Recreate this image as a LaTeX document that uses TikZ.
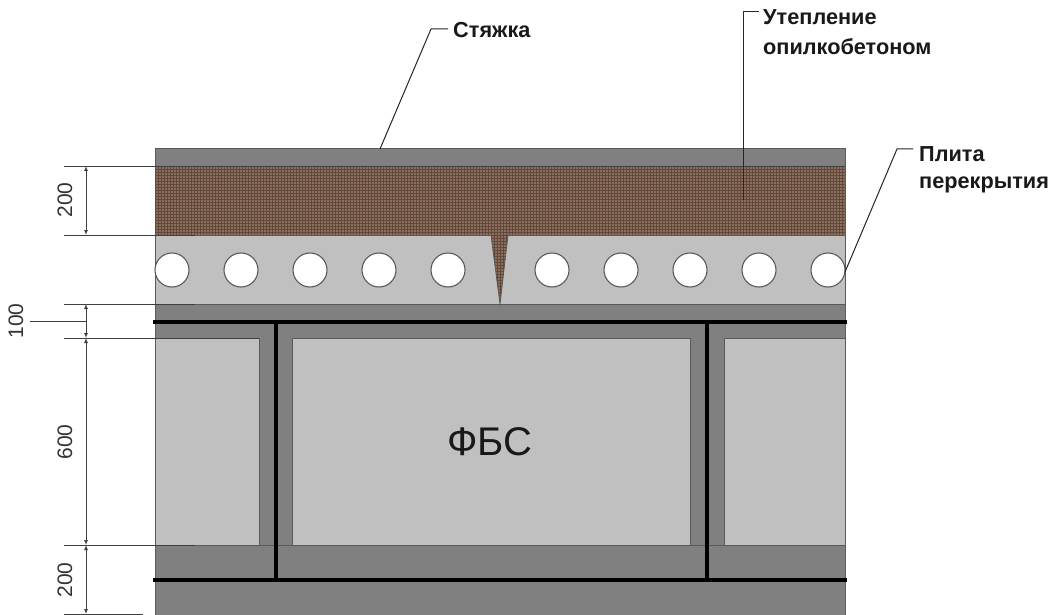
\documentclass[tikz,border=0pt]{standalone}
\usepackage{fontspec}
\setmainfont{Liberation Sans}
\usetikzlibrary{arrows.meta}
\definecolor{darkfill}{HTML}{808080}
\definecolor{lightfill}{HTML}{C0C0C0}
\definecolor{brownfill}{HTML}{8A6E5F}
\definecolor{brownmesh}{HTML}{614839}
\definecolor{edgegrey}{HTML}{5A5A5A}
\tikzset{
  x=1pt,y=-1pt,
  layer/.style={draw=edgegrey,line width=1pt},
  heavy/.style={draw=black,line width=3.2pt},
  dimline/.style={draw=black!75,line width=0.9pt},
  dimarrow/.style={dimline,{Latex[length=5pt,width=4pt]}-{Latex[length=5pt,width=4pt]}},
  leader/.style={draw=black!85,line width=1pt},
  dimtext/.style={font=\fontsize{21}{21}\selectfont,text=black!80,rotate=90,inner sep=0pt},
  calltext/.style={font=\fontsize{21.7}{21.7}\selectfont\bfseries,text=black!90,anchor=west,inner sep=0pt},
  hole/.style={draw=edgegrey,line width=1.1pt,fill=white,circle,minimum size=34pt,inner sep=0pt},
}
\begin{document}
\begin{tikzpicture}
\useasboundingbox (0,0) rectangle (1050,615);
\fill[white] (0,0) rectangle (1050,615);
% body
\path[fill=darkfill] (155,149) rectangle (845,615);
\draw[layer] (155,615) -- (155,149) -- (845,149) -- (845,615);
% slab
\path[layer,fill=lightfill] (155,235) rectangle (845,304);
% insulation with notch
\path[fill=brownfill] (155,166) -- (845,166) -- (845,235) -- (508,235) -- (500,304) -- (491,235) -- (155,235) -- cycle;
\begin{scope}
  \clip (155,166) -- (845,166) -- (845,235) -- (508,235) -- (500,304) -- (491,235) -- (155,235) -- cycle;
  \draw[brownmesh,line width=0.7pt] 
    \foreach \gx in {155,158,...,845} {(\gx,166) -- (\gx,304)}
    \foreach \gy in {166,169,...,304} {(155,\gy) -- (845,\gy)};
\end{scope}
\draw[edgegrey,line width=0.8pt] (491,235) -- (500,304) -- (508,235);
% holes
\foreach \n/\cx in {a/172,b/241,c/310,d/379,e/448,f/552,g/621,h/690,i/759,j/828}
  \node[hole] (hole\n) at (\cx,270) {};
% blocks
\path[layer,fill=lightfill] (155,338) rectangle (259,545);
\path[layer,fill=lightfill] (292,338) rectangle (690,545);
\path[layer,fill=lightfill] (724,338) rectangle (845,545);
\draw[edgegrey,line width=1pt] (155,545) -- (845,545);
% heavy lines
\draw[heavy] (153,322) -- (847,322);
\draw[heavy] (153,580) -- (847,580);
\draw[heavy] (276,322) -- (276,580);
\draw[heavy] (707,322) -- (707,580);
\node[font=\fontsize{40}{40}\selectfont,text=black!90,inner sep=0pt] (fbs) at (490,442) {ФБС};
% dimension coordinates
\coordinate (d0) at (86,166);
\coordinate (d1) at (86,235);
\coordinate (d2) at (86,304);
\coordinate (d3) at (86,338);
\coordinate (d4) at (86,545);
\coordinate (d5) at (86,614);
\coordinate (dm) at (86,321);
\coordinate (dl) at (30,321);
\draw[dimline] (64,166) -- (845,166);
\draw[dimline] (64,235) -- (195,235);
\draw[dimline] (64,304) -- (195,304);
\draw[dimline] (64,338) -- (259,338);
\draw[dimline] (64,545) -- (195,545);
\draw[dimline] (64,614) -- (143,614);
\draw[dimarrow] (d0) -- (d1);
\draw[dimarrow] (d2) -- (d3);
\draw[dimarrow] (d3) -- (d4);
\draw[dimarrow] (d4) -- (d5);
\draw[dimline] (dl) -- (dm);
\node[dimtext] (t200a) at (65,200) {200};
\node[dimtext] (t100) at (16,321) {100};
\node[dimtext] (t600) at (65,442) {600};
\node[dimtext] (t200b) at (65,580) {200};
% callouts
\node[calltext] (lscreed) at (453,30) {Стяжка};
\node[calltext] (lins1) at (763,17) {Утепление};
\node[calltext] (lins2) at (763,47) {опилкобетоном};
\node[calltext] (lslab1) at (919,154) {Плита};
\node[calltext] (lslab2) at (919,185) {перекрытия};
\coordinate (pscreed) at (380,149);
\coordinate (kscreed) at (431,29);
\coordinate (eins) at (743,200);
\coordinate (kins) at (743,12);
\coordinate (pslab) at (845,272);
\coordinate (kslab) at (897,149);
\draw[leader] (pscreed) -- (kscreed) -- (448,29);
\draw[leader] (eins) -- (kins) -- (759,12);
\draw[leader] (pslab) -- (kslab) -- (913,149);
\end{tikzpicture}
\end{document}
